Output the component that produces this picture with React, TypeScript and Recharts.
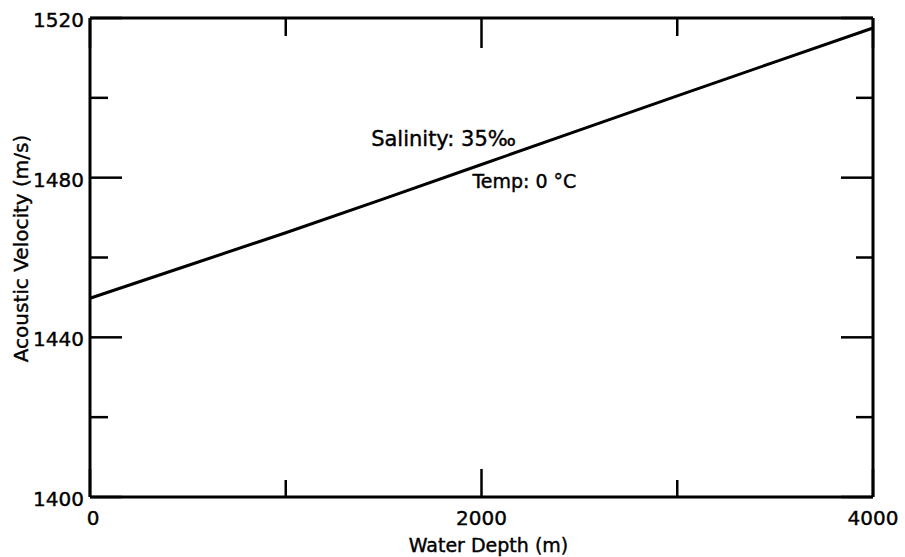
import React from 'react';
import { LineChart, Line, XAxis, YAxis, ReferenceDot } from 'recharts';

const depths = [0, 500, 1000, 1500, 2000, 2500, 3000, 3500, 4000];
const velocities = [1449.8, 1458.0, 1466.2, 1474.7, 1483.3, 1491.9, 1500.5, 1509.0, 1517.5];
const xTicks = [0, 1000, 2000, 3000, 4000];
const xLabeled = [0, 2000, 4000];
const yTicks = [1400, 1420, 1440, 1460, 1480, 1500, 1520];
const yLabeled = [1400, 1440, 1480, 1520];
const noteTexts = ['Salinity: 35‰', 'Temp: 0 °C'];
const noteDepths = [1806, 2219];
const noteVelocities = [1489.7, 1479.2];
const xTitle = 'Water Depth (m)';
const yTitle = 'Acoustic Velocity (m/s)';

const data = depths.map((d, i) => ({ depth: d, velocity: velocities[i] }));
const notes = noteTexts.map((t, i) => ({ text: t, x: noteDepths[i], y: noteVelocities[i] }));

const FONT = '"DejaVu Sans", sans-serif';

const BottomTick = (props: any) => {
  const { x, y, payload } = props;
  const v = payload.value;
  const len = v % 2000 === 0 ? 28 : 17;
  return (
    <g>
      <line x1={x} y1={y} x2={x} y2={y - len} stroke="#000" strokeWidth={2.5} />
      {xLabeled.includes(v) && (
        <text x={x + (v === 0 ? 3 : 0)} y={y + 21} textAnchor="middle" dominantBaseline="central" fontFamily={FONT} fontSize={20} fill="#000" stroke="#000" strokeWidth={0.4}>
          {v}
        </text>
      )}
    </g>
  );
};

const TopTick = (props: any) => {
  const { x, y, payload } = props;
  const v = payload.value;
  const len = v % 2000 === 0 ? 30 : 18;
  return <line x1={x} y1={y} x2={x} y2={y + len} stroke="#000" strokeWidth={2.5} />;
};

const LeftTick = (props: any) => {
  const { x, y, payload } = props;
  const v = payload.value;
  const len = v % 40 === 0 ? 32 : 18;
  return (
    <g>
      <line x1={x} y1={y} x2={x + len} y2={y} stroke="#000" strokeWidth={2.5} />
      {yLabeled.includes(v) && (
        <text x={x - 6} y={y + 2} textAnchor="end" dominantBaseline="central" fontFamily={FONT} fontSize={20} fill="#000" stroke="#000" strokeWidth={0.4}>
          {v}
        </text>
      )}
    </g>
  );
};

const RightTick = (props: any) => {
  const { x, y, payload } = props;
  const v = payload.value;
  const len = v % 40 === 0 ? 32 : 17;
  return <line x1={x} y1={y} x2={x - len} y2={y} stroke="#000" strokeWidth={2.5} />;
};

const XTitle = (props: any) => {
  const vb = props.viewBox || {};
  const cx = vb.x + vb.width / 2 + 7;
  const cy = vb.y + 48;
  return (
    <text x={cx} y={cy} textAnchor="middle" dominantBaseline="central" fontFamily={FONT} fontSize={19} fill="#000" stroke="#000" strokeWidth={0.4}>
      {xTitle}
    </text>
  );
};

const YTitle = (props: any) => {
  const vb = props.viewBox || {};
  const cx = 21;
  const cy = vb.y + vb.height / 2 - 9;
  return (
    <text x={cx} y={cy} transform={`rotate(-90 ${cx} ${cy})`} textAnchor="middle" dominantBaseline="central" fontFamily={FONT} fontSize={20} fill="#000" stroke="#000" strokeWidth={0.4}>
      {yTitle}
    </text>
  );
};

export default function App() {
  return (
    <div style={{ position: 'absolute', left: 0, top: 0, width: 905, height: 557, background: '#fff', fontFamily: FONT }}>
      <LineChart width={905} height={557} data={data} margin={{ top: 17, right: 31, bottom: 0, left: 0 }}>
        <XAxis
          xAxisId="bottom"
          dataKey="depth"
          type="number"
          domain={[0, 4000]}
          ticks={xTicks}
          interval={0}
          orientation="bottom"
          height={60}
          tickSize={0}
          tickMargin={0}
          tickLine={false}
          tick={<BottomTick />}
          axisLine={{ stroke: '#000', strokeWidth: 3 }}
          label={<XTitle />}
        />
        <XAxis
          xAxisId="top"
          dataKey="depth"
          type="number"
          domain={[0, 4000]}
          ticks={xTicks}
          interval={0}
          orientation="top"
          height={1}
          tickSize={0}
          tickMargin={0}
          tickLine={false}
          tick={<TopTick />}
          axisLine={{ stroke: '#000', strokeWidth: 3 }}
        />
        <YAxis
          yAxisId="left"
          type="number"
          domain={[1400, 1520]}
          ticks={yTicks}
          interval={0}
          orientation="left"
          width={90}
          tickSize={0}
          tickMargin={0}
          tickLine={false}
          tick={<LeftTick />}
          axisLine={{ stroke: '#000', strokeWidth: 3 }}
          label={<YTitle />}
        />
        <YAxis
          yAxisId="right"
          type="number"
          domain={[1400, 1520]}
          ticks={yTicks}
          interval={0}
          orientation="right"
          width={1}
          tickSize={0}
          tickMargin={0}
          tickLine={false}
          tick={<RightTick />}
          axisLine={{ stroke: '#000', strokeWidth: 3 }}
        />
        <Line
          xAxisId="bottom"
          yAxisId="left"
          type="linear"
          dataKey="velocity"
          stroke="#000"
          strokeWidth={3}
          dot={false}
          activeDot={false}
          isAnimationActive={false}
        />
        <Line
          xAxisId="top"
          yAxisId="right"
          type="linear"
          dataKey="velocity"
          stroke="none"
          dot={false}
          activeDot={false}
          isAnimationActive={false}
        />
        {notes.map((n, i) => (
          <ReferenceDot
            key={i}
            xAxisId="bottom"
            yAxisId="left"
            x={n.x}
            y={n.y}
            r={1}
            fill="none"
            stroke="none"
            label={{ value: n.text, position: 'center', fill: '#000', stroke: '#000', strokeWidth: 0.4, fontSize: i === 0 ? 21 : 19, fontFamily: FONT }}
          />
        ))}
      </LineChart>
    </div>
  );
}
